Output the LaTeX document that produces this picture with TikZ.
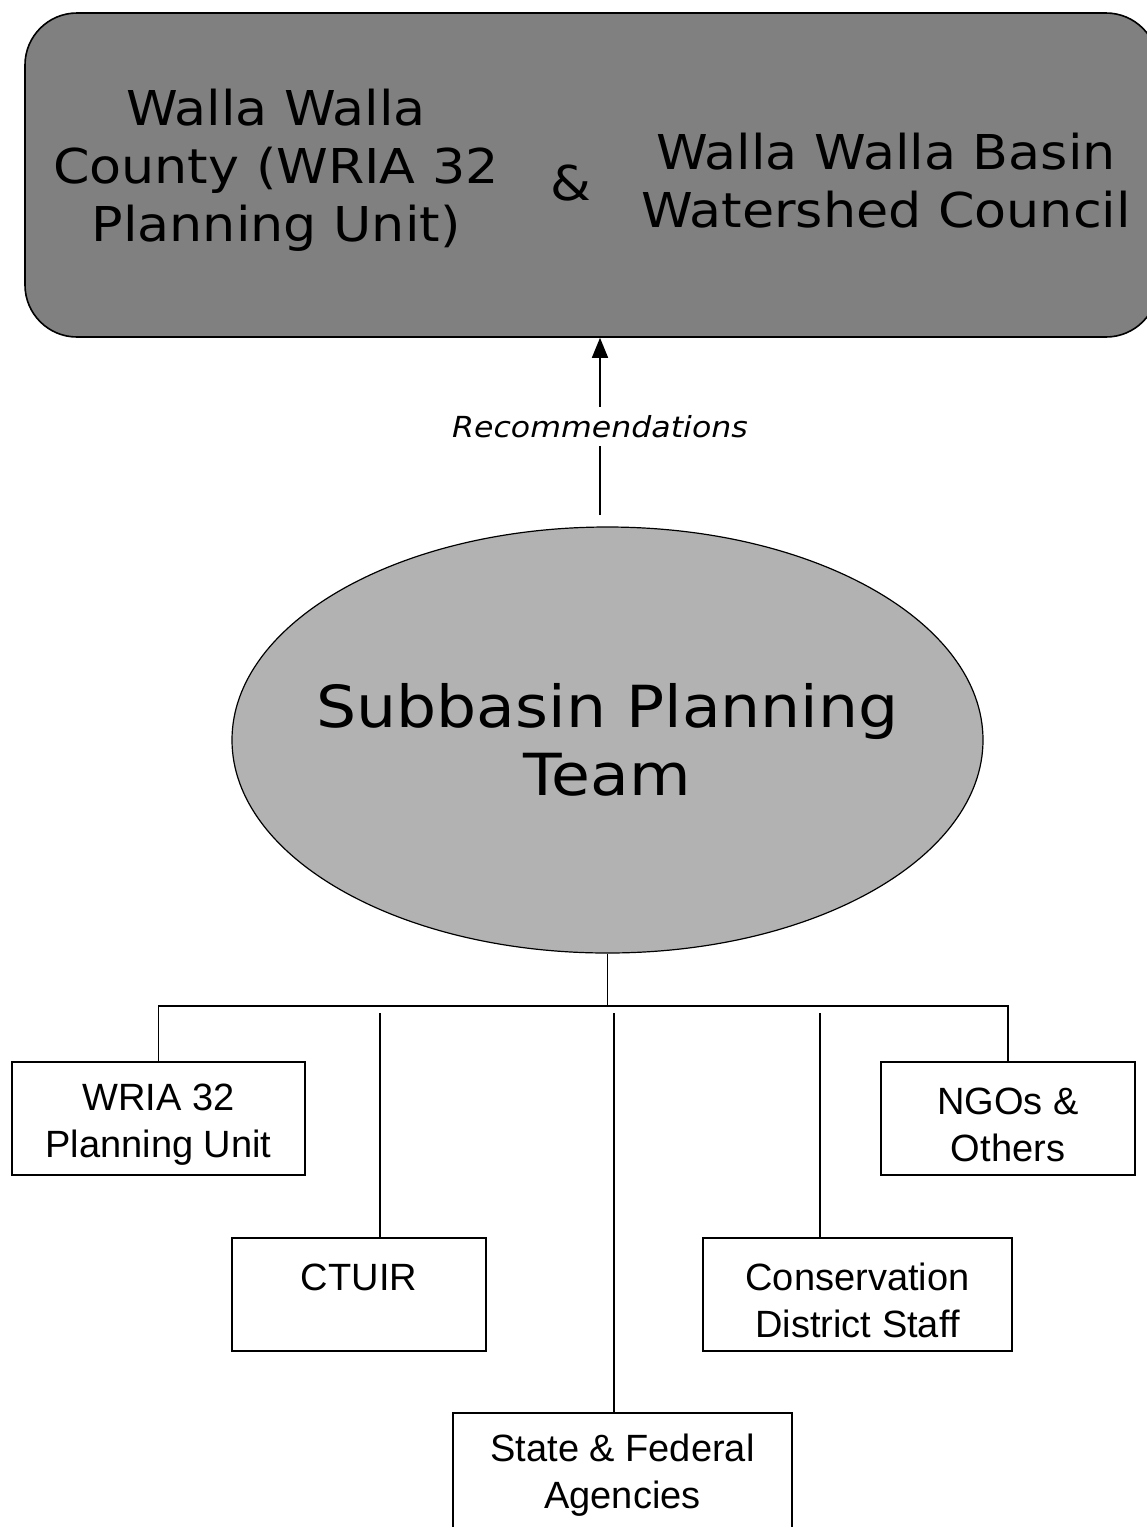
\documentclass[tikz,border=0pt]{standalone}
\usepackage{fontspec}
\setmainfont{Liberation Sans}
\newfontfamily\topfont[FakeStretch=1.09]{DejaVu Sans}
\usetikzlibrary{shapes.geometric,arrows.meta}
\definecolor{councilgray}{RGB}{128,128,128}
\definecolor{teamgray}{RGB}{178,178,178}

\begin{document}
\begin{tikzpicture}[x=1pt,y=-1pt,line width=1.6pt,
  member/.style={draw,inner sep=0pt,minimum height=113pt},
  memtext/.style={align=center,yshift=-6pt,font=\fontsize{38}{47}\selectfont},
  bigtext/.style={align=center,font=\topfont\fontsize{48}{58}\selectfont}]
\useasboundingbox (0,0) rectangle (1147,1527);
\node[draw,rounded corners=52pt,fill=councilgray,minimum width=1133pt,minimum height=324pt] (WWC) at (591.5,175) {};
\node[bigtext] (WWCounty) at (276,170) {Walla Walla\\County (WRIA 32\\Planning Unit)};
\node[bigtext] (amp) at (571,183) {\&};
\node[bigtext] (WWBasin) at (886,181) {Walla Walla Basin\\Watershed Council};
\node[draw,line width=1.2pt,ellipse,fill=teamgray,minimum width=751pt,minimum height=426pt,inner sep=0pt] (SPT) at (607.5,740) {};
\node[align=center,font=\topfont\fontsize{58}{68}\selectfont] (SPTtext) at (SPT.center) {Subbasin Planning\\Team};
\node[member,minimum width=293pt,label={[memtext]center:WRIA 32\\Planning Unit}] (WRIA) at (158.5,1118.5) {};
\node[member,minimum width=254pt,label={[memtext]center:CTUIR\\~}] (CTUIR) at (359,1294.5) {};
\node[member,minimum width=309pt,label={[memtext]center:Conservation\\District Staff}] (CDS) at (857.5,1294.5) {};
\node[member,minimum width=339pt,minimum height=127pt,label={[memtext,yshift=7pt]center:State \& Federal\\Agencies}] (SFA) at (622.5,1476.5) {};
\node[member,minimum width=254pt,label={[memtext]center:NGOs \&\\Others}] (NGO) at (1008,1118.5) {};
\coordinate (rec) at (600,515);
\draw[-{Triangle[length=20pt,width=16pt]}] (rec) -- (rec |- WWC.south) node[midway,fill=white,inner sep=8pt,font=\topfont\itshape\fontsize{29}{35}\selectfont] {Recommendations};
\coordinate (hub) at (607.5,1006);
\draw (SPT.south) -- (hub);
\draw (WRIA.north) |- (hub) -| (NGO.north);
\coordinate (CTUIRtop) at (380,1013);
\coordinate (SFAtop) at (614,1013);
\coordinate (CDStop) at (820,1013);
\draw (CTUIRtop) -- (CTUIR.north -| CTUIRtop);
\draw (SFAtop) -- (SFA.north -| SFAtop);
\draw (CDStop) -- (CDS.north -| CDStop);
\end{tikzpicture}
\end{document}
